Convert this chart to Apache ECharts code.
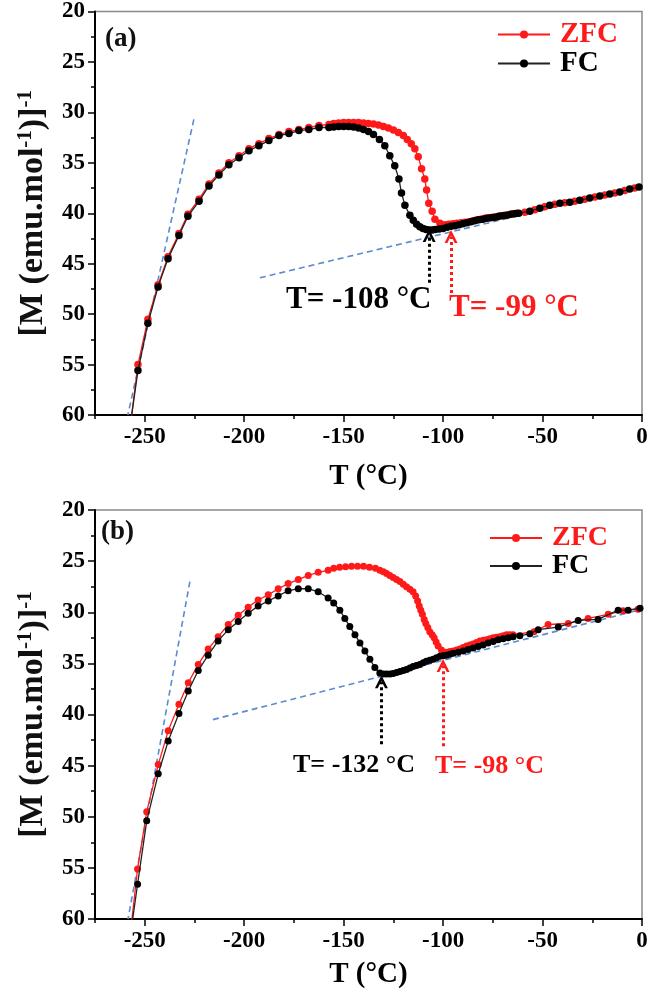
<!DOCTYPE html>
<html><head><meta charset="utf-8">
<script src="https://cdn.jsdelivr.net/npm/echarts@6/dist/echarts.min.js"></script>
<style>html,body{margin:0;padding:0;background:#fff}#c{width:660px;height:992px}</style>
</head><body><div id="c"></div>
<script>
// ---------- data ----------
const X_MAJOR = [-250, -200, -150, -100, -50, 0];
const X_MINOR = [-275, -225, -175, -125, -75, -25];
const SERIES_NAMES = ['ZFC', 'FC'];
const PANEL_LABELS = ['(a)', '(b)'];

// Panel (a)
const A_ZFC_T = [-257.5,-253.4,-248.4,-243.3,-238.3,-232.8,-228.3,-222.7,-217.7,-212.7,-207.7,-202.6,-197.6,-192.6,-187.6,-182.5,-177.5,-172.5,-167.5,-162.4,-157.4,-155,-152.5,-150,-147.5,-145,-142.5,-140,-137.5,-135,-132.5,-130,-127.5,-125,-122.5,-120,-118,-116,-114.2,-112.5,-110.8,-109.2,-108.3,-107.2,-105.5,-104.1,-101.6,-99,-97,-95,-93,-91,-89,-87,-85,-83,-81,-79,-77,-75,-73,-71,-69,-67,-65,-63,-58.9,-53.9,-48.9,-43.8,-38.8,-33.8,-28.8,-23.7,-18.7,-13.7,-8.7,-3.7];
const A_ZFC_M = [61.5,55.0,50.5,47.1,44.3,42.0,40.1,38.6,37.1,36.0,35.0,34.3,33.6,33.1,32.6,32.2,31.9,31.7,31.5,31.3,31.2,31.1,31.05,31.0,31.0,31.0,31.0,31.05,31.1,31.15,31.25,31.4,31.55,31.75,32.0,32.3,32.7,33.1,33.6,34.4,35.6,36.6,37.7,39.0,39.8,40.6,41.0,41.15,41.1,41.05,41.0,40.95,40.9,40.85,40.75,40.65,40.6,40.5,40.45,40.4,40.35,40.25,40.2,40.15,40.05,40.0,39.9,39.65,39.35,39.1,38.95,38.8,38.6,38.4,38.2,38.0,37.75,37.5];
const A_FC_T = [-258,-253.4,-248.4,-243.3,-238.3,-232.8,-228.3,-222.7,-217.7,-212.7,-207.7,-202.6,-197.6,-192.6,-187.6,-182.5,-177.5,-172.5,-167.5,-162.4,-157.4,-155,-152.5,-150,-147.5,-145,-142.5,-140,-137.5,-135,-132,-129.3,-126.8,-124.3,-122.2,-120.9,-119.2,-116.7,-115,-113.3,-111.7,-110.1,-108.5,-107,-105.5,-104,-102,-100,-98,-96,-94,-92,-90,-88,-86,-84,-82,-80,-78,-76,-74,-72,-70,-68,-66,-64,-62,-56.4,-51.4,-46.4,-41.3,-36.3,-31.3,-26.3,-21.2,-16.2,-11.2,-6.2,-1.5];
const A_FC_M = [62,55.6,50.9,47.3,44.5,42.2,40.3,38.8,37.3,36.2,35.2,34.5,33.8,33.3,32.8,32.3,32.1,31.8,31.7,31.5,31.5,31.45,31.4,31.4,31.4,31.45,31.55,31.7,31.9,32.2,32.7,33.3,34.3,35.3,36.6,38.0,39.2,40.2,40.7,41.1,41.35,41.5,41.6,41.65,41.65,41.6,41.55,41.5,41.4,41.3,41.25,41.15,41.05,40.95,40.85,40.75,40.65,40.6,40.5,40.45,40.4,40.3,40.25,40.2,40.1,40.05,40.0,39.8,39.5,39.2,39.0,38.9,38.7,38.5,38.3,38.1,37.9,37.6,37.4];
const A_TAN1_T = [-225.3, -258.5], A_TAN1_M = [30.7, 60];
const A_TAN2_T = [-192.1, 0],      A_TAN2_M = [46.4, 37.3];
const A_ARROW_FC_T = [-107, -107],  A_ARROW_FC_M = [46.9, 42.2];
const A_ARROW_ZFC_T = [-96, -96],   A_ARROW_ZFC_M = [47.9, 42.3];
const A_NOTES = ['T= -108 °C', 'T= -99 °C'];

// Panel (b)
const B_ZFC_T = [-257,-253.6,-249,-243.2,-238.2,-232.8,-228.1,-223.1,-218.1,-213.1,-208,-203,-198,-193,-187.9,-182.9,-177.9,-172.8,-167.8,-162.8,-157.8,-155,-152,-149,-146,-143,-140,-137,-134,-131.8,-130,-128.4,-126.8,-125.1,-123.4,-121.7,-120,-118.4,-116.7,-115.1,-113.8,-112.8,-112,-111.2,-110.4,-109.5,-108.7,-107.7,-106.7,-105.5,-104.5,-103.5,-102.5,-100.8,-98.3,-96.5,-94.9,-93.2,-91.6,-89.9,-88.2,-86.5,-84.9,-83.2,-81.5,-79.8,-78.2,-76.5,-74.8,-73.1,-71.5,-69.8,-68.1,-66.5,-64.8,-54.3,-47.2,-37.1,-27.1,-17,-9.5,-2];
const B_ZFC_M = [61,55.1,49.5,44.9,41.6,39.0,36.9,35.1,33.6,32.4,31.2,30.3,29.5,28.8,28.3,27.7,27.2,26.8,26.4,26.1,25.9,25.7,25.6,25.55,25.5,25.5,25.5,25.6,25.7,25.9,26.05,26.2,26.4,26.6,26.8,27.0,27.25,27.5,27.75,28.0,28.4,28.9,29.4,29.8,30.2,30.7,31.1,31.5,31.9,32.2,32.5,32.9,33.3,33.7,33.9,33.85,33.8,33.7,33.6,33.45,33.3,33.2,33.1,32.95,32.8,32.75,32.7,32.6,32.5,32.45,32.4,32.3,32.2,32.2,32.2,31.9,31.2,31.1,30.6,30.2,29.85,29.7];
const B_FC_T = [-257.5,-253.6,-249,-243.2,-238.2,-232.8,-228.1,-223.1,-218.1,-213.1,-208,-203,-198,-193,-187.9,-182.9,-177.9,-172.8,-167.8,-162.8,-157.8,-155,-151.9,-149.4,-146.9,-144.3,-141.8,-139.3,-136.8,-134.3,-131.8,-130,-128.4,-126.7,-125.1,-123.4,-121.7,-120,-118.4,-116.7,-115.1,-113.4,-111.7,-110,-108.4,-106.7,-105,-103.3,-101.6,-100,-98.3,-96.6,-94.9,-92.4,-89.9,-87.4,-84.9,-82.4,-79.9,-77.4,-74.8,-72.3,-69.8,-67.3,-64.8,-61.4,-56.4,-52.2,-42.1,-32.1,-22.1,-12,-7,-1];
const B_FC_M = [62,56.6,50.4,45.8,42.6,39.9,37.7,35.7,34.2,32.8,31.7,30.9,30.1,29.4,28.9,28.4,27.9,27.7,27.7,28.0,28.6,29.1,29.8,30.6,31.4,32.2,33.0,33.8,34.6,35.4,35.95,36.05,36.05,36.05,36.0,35.9,35.8,35.7,35.6,35.45,35.3,35.2,35.1,34.95,34.8,34.7,34.6,34.45,34.3,34.25,34.2,34.1,34.0,33.9,33.8,33.65,33.5,33.35,33.2,33.0,32.85,32.7,32.6,32.5,32.4,32.3,32.1,31.7,31.45,30.8,30.7,29.8,29.8,29.6];
const B_TAN1_T = [-227.3, -258.4], B_TAN1_M = [27.0, 60];
const B_TAN2_T = [-215.7, 0],      B_TAN2_M = [40.5, 29.7];
const B_ARROW_FC_T = [-131, -131],  B_ARROW_FC_M = [42.9, 36.8];
const B_ARROW_ZFC_T = [-100, -100], B_ARROW_ZFC_M = [43.1, 35.2];
const B_NOTES = ['T= -132 °C', 'T= -98 °C'];

// ---------- styling ----------
const FONT = "'Liberation Serif','Times New Roman',serif";
const RED = '#ff1a1a', BLACK = '#000000', BLUE = '#5b8bd0';
const CHEVRON = 'path://M0,12 L6,0 L12,12 L9.4,12 L6,5.2 L2.6,12 Z';
const pairs = (t, m) => t.map((v, i) => [v, m[i]]);

function xAxes(gi, nameGap) {
  return [
    { type: 'value', gridIndex: gi, min: -275, max: 0,
      axisLine: { show: true, onZero: false, lineStyle: { color: '#000', width: 2 } },
      axisTick: { show: true, customValues: X_MAJOR, length: 7, lineStyle: { color: '#000', width: 1.5 } },
      axisLabel: { customValues: X_MAJOR, margin: 11, fontFamily: FONT, fontWeight: 'bold', fontSize: 23, color: '#000' },
      splitLine: { show: false },
      name: 'T (°C)', nameLocation: 'middle', nameGap: nameGap,
      nameTextStyle: { fontFamily: FONT, fontWeight: 'bold', fontSize: 29, color: '#000' } },
    { type: 'value', gridIndex: gi, min: -275, max: 0, position: 'bottom',
      axisLine: { show: false },
      axisTick: { show: true, customValues: X_MINOR, length: 4, lineStyle: { color: '#000', width: 1.5 } },
      axisLabel: { show: false }, splitLine: { show: false } }
  ];
}
function yAxis(gi) {
  return { type: 'value', gridIndex: gi, inverse: true, min: 20, max: 60, interval: 5,
    axisLine: { show: true, onZero: false, lineStyle: { color: '#000', width: 2 } },
    axisTick: { show: true, length: 7, lineStyle: { color: '#000', width: 1.5 } },
    minorTick: { show: true, splitNumber: 2, length: 4, lineStyle: { color: '#000', width: 1.5 } },
    axisLabel: { margin: 10, fontFamily: FONT, fontWeight: 'bold', fontSize: 23, color: '#000' },
    splitLine: { show: false },
    name: '[M (emu.mol{s|-1})]{s|-1}', nameLocation: 'middle', nameGap: 41,
    nameTextStyle: { fontFamily: FONT, fontWeight: 'bold', fontSize: 34, color: '#111', lineHeight: 36,
      rich: { s: { fontFamily: FONT, fontWeight: 'bold', fontSize: 21, color: '#111', verticalAlign: 'top', lineHeight: 36 } } }
  };
}
function arrow(t, m, color) {
  return [{ coord: [t[0], m[0]], symbol: 'none', lineStyle: { color: color } },
          { coord: [t[1], m[1]], symbol: CHEVRON, symbolSize: 13, itemStyle: { color: color } }];
}
function panelSeries(gi, zT, zM, fT, fM, t1T, t1M, t2T, t2M, aF, aZ, sym) {
  const xi = gi * 2, yi = gi;
  const tan = (t, m) => ({ type: 'line', xAxisIndex: xi, yAxisIndex: yi, data: pairs(t, m), symbol: 'none',
    lineStyle: { color: BLUE, width: 1.6, type: [6, 4] }, z: 1, silent: true });
  return [
    tan(t1T, t1M), tan(t2T, t2M),
    { name: 'ZFC', type: 'line', xAxisIndex: xi, yAxisIndex: yi, data: pairs(zT, zM), symbol: 'circle', symbolSize: sym,
      itemStyle: { color: RED }, lineStyle: { color: RED, width: 1.3 }, z: 2,
      markLine: { silent: true, label: { show: false }, lineStyle: { type: 'dotted', width: 3, color: RED },
        data: [arrow(aZ[0], aZ[1], RED)] } },
    { name: 'FC', type: 'line', xAxisIndex: xi, yAxisIndex: yi, data: pairs(fT, fM), symbol: 'circle', symbolSize: sym,
      itemStyle: { color: BLACK }, lineStyle: { color: '#222', width: 1.3 }, z: 3,
      markLine: { silent: true, label: { show: false }, lineStyle: { type: 'dotted', width: 3, color: BLACK },
        data: [arrow(aF[0], aF[1], BLACK)] } }
  ];
}
function legend(left, top, size) {
  return { left: left, top: top, orient: 'vertical', itemGap: 0, itemWidth: 52, itemHeight: 10, selectedMode: false,
    textStyle: { fontFamily: FONT, fontWeight: 'bold', fontSize: size, padding: [0, 0, 0, 5] },
    data: [{ name: SERIES_NAMES[0], textStyle: { color: RED } }, { name: SERIES_NAMES[1], textStyle: { color: BLACK } }] };
}
function txt(s, left, top, size, color) {
  return { type: 'text', left: left, top: top, style: { text: s, fontFamily: FONT, fontWeight: 'bold', fontSize: size, fill: color } };
}

const chart = echarts.init(document.getElementById('c'), null, { renderer: 'canvas' });
chart.setOption({
  backgroundColor: '#fff',
  animation: false,
  grid: [
    { left: 95, right: 18, top: 8, height: 407, show: true, borderColor: '#8a8a8a', borderWidth: 1.5, backgroundColor: 'transparent' },
    { left: 95, right: 18, top: 510, height: 409, show: true, borderColor: '#8a8a8a', borderWidth: 1.5, backgroundColor: 'transparent' }
  ],
  xAxis: [...xAxes(0, 47), ...xAxes(1, 41)],
  yAxis: [yAxis(0), yAxis(1)],
  legend: [legend(492, 15, 29), legend(484, 519, 28)],
  series: [
    ...panelSeries(0, A_ZFC_T, A_ZFC_M, A_FC_T, A_FC_M, A_TAN1_T, A_TAN1_M, A_TAN2_T, A_TAN2_M,
      [A_ARROW_FC_T, A_ARROW_FC_M], [A_ARROW_ZFC_T, A_ARROW_ZFC_M], 7.5),
    ...panelSeries(1, B_ZFC_T, B_ZFC_M, B_FC_T, B_FC_M, B_TAN1_T, B_TAN1_M, B_TAN2_T, B_TAN2_M,
      [B_ARROW_FC_T, B_ARROW_FC_M], [B_ARROW_ZFC_T, B_ARROW_ZFC_M], 7)
  ],
  graphic: [
    txt(PANEL_LABELS[0], 105, 26, 27, '#111'),
    txt(PANEL_LABELS[1], 101, 519, 27, '#111'),
    txt(A_NOTES[0], 286, 284, 31, BLACK),
    txt(A_NOTES[1], 449, 292, 31, RED),
    txt(B_NOTES[0], 293, 752, 26, BLACK),
    txt(B_NOTES[1], 435, 753, 26, RED)
  ]
});
</script></body></html>
